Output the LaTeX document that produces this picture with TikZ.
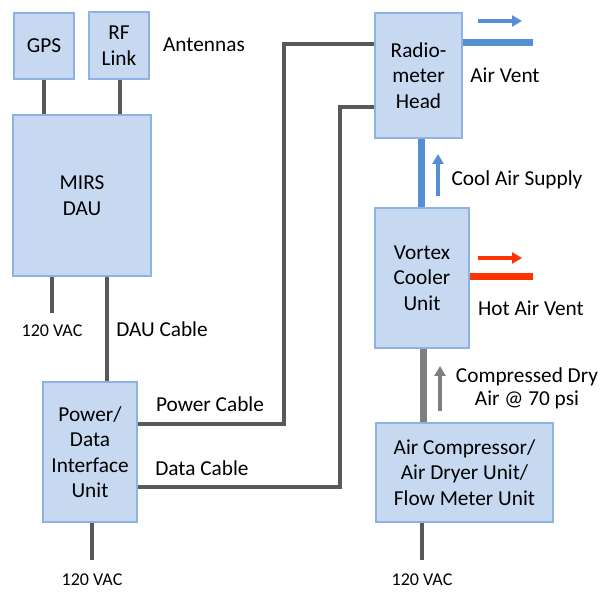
\documentclass[tikz,border=0pt]{standalone}
\usepackage{fontspec}
\setmainfont{Carlito}
\usetikzlibrary{arrows.meta}
\definecolor{BoxFill}{HTML}{C6D9F1}
\definecolor{BoxLine}{HTML}{8DB3E2}
\definecolor{CableGray}{HTML}{595959}
\definecolor{CoolBlue}{HTML}{558ED5}
\definecolor{HotRed}{HTML}{FF3300}
\definecolor{DryGray}{HTML}{7F7F7F}

\begin{document}
\begin{tikzpicture}[x=1pt,y=-1pt,line cap=butt,line join=miter,
  unit/.style={draw=BoxLine,fill=BoxFill,line width=2pt,inner sep=0pt,align=center,
    font=\fontsize{21.3}{25.5}\selectfont},
  lbl/.style={inner sep=0pt,align=center,font=\fontsize{21.3}{23}\selectfont},
  vac/.style={inner sep=0pt,font=\fontsize{18}{20}\selectfont},
  cable/.style={draw=CableGray,line width=4pt},
  duct/.style={line width=7pt},
  flow/.style={line width=3.5pt,-{Triangle[length=10pt,width=11pt]}}]
  \useasboundingbox (0,0) rectangle (605,593);
  % units
  \node[unit,minimum width=60pt,minimum height=66pt] (gps) at (44,46) {GPS};
  \node[unit,minimum width=60pt,minimum height=67pt] (rf) at (119,45.5) {RF\\Link};
  \node[unit,minimum width=138pt,minimum height=161pt] (dau) at (82,195.5) {MIRS\\DAU};
  \node[unit,minimum width=94pt,minimum height=140pt] (pdi) at (90,452) {Power/\\Data\\Interface\\Unit};
  \node[unit,minimum width=87pt,minimum height=125pt] (rad) at (418.5,75.5) {Radio-\\meter\\Head};
  \node[unit,minimum width=94pt,minimum height=140pt] (vcu) at (422,278) {Vortex\\Cooler\\Unit};
  \node[unit,minimum width=177pt,minimum height=99pt] (acu) at (464.5,472.5) {Air Compressor/\\Air Dryer Unit/\\Flow Meter Unit};
  % labels
  \node[lbl] (ant) at (204,45) {Antennas};
  \node[vac] (vacdau) at (52,331) {120 VAC};
  \node[vac] (vacpdi) at (92,580) {120 VAC};
  \node[vac] (vacacu) at (422,580) {120 VAC};
  \node[lbl] (daucab) at (162,329) {DAU Cable};
  \node[lbl] (pwrcab) at (210,404) {Power Cable};
  \node[lbl] (datcab) at (202,468) {Data Cable};
  \node[lbl] (airvent) at (505,75) {Air Vent};
  \node[lbl] (coolair) at (517,180) {Cool Air Supply};
  \node[lbl] (hotvent) at (531,308) {Hot Air Vent};
  \node[lbl] (dryair) at (527,388) {Compressed Dry\\Air @ 70 psi};
  % free ends
  \coordinate (dauend) at (52,313);
  \coordinate (pdiend) at (92,560);
  \coordinate (acuend) at (422,560);
  \coordinate (ventend) at (533,43);
  \coordinate (hotend) at (533,277);
  % cables
  \draw[cable] (44,0 |- gps.south) -- (44,0 |- dau.north);
  \draw[cable] (120,0 |- rf.south) -- (120,0 |- dau.north);
  \draw[cable] (dauend |- dau.south) -- (dauend);
  \draw[cable] (107,0 |- dau.south) -- (107,0 |- pdi.north);
  \draw[cable] (pdi.east |- 0,424) -- (284,424) -- (284,44) -- (rad.west |- 0,44);
  \draw[cable] (pdi.east |- 0,487) -- (340,487) -- (340,107) -- (rad.west |- 0,107);
  \draw[cable] (pdiend |- pdi.south) -- (pdiend);
  \draw[cable] (acuend |- acu.south) -- (acuend);
  % air ducts
  \draw[duct,CoolBlue] (rad.east |- ventend) -- (ventend);
  \draw[duct,CoolBlue] (421,0 |- rad.south) -- (421,0 |- vcu.north);
  \draw[duct,HotRed] (vcu.east |- hotend) -- (hotend);
  \draw[duct,DryGray] (423,0 |- vcu.south) -- (423,0 |- acu.north);
  % flow arrows
  \draw[flow,CoolBlue] (478,21) -- (522,21);
  \draw[flow,CoolBlue] (438,196) -- (438,154);
  \draw[flow,HotRed] (478,258) -- (522,258);
  \draw[flow,DryGray] (440,411) -- (440,366);
\end{tikzpicture}
\end{document}
